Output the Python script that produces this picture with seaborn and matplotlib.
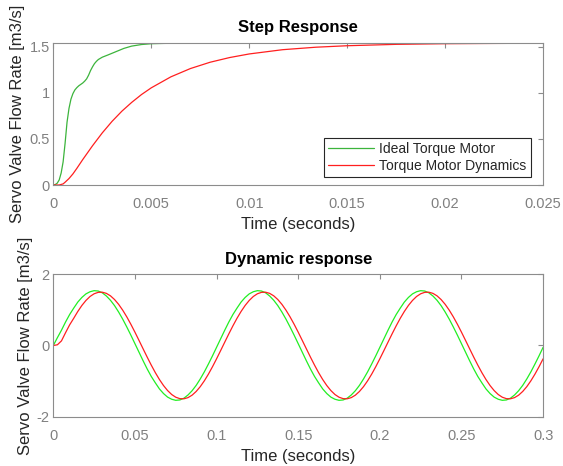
import numpy as np
import pandas as pd
import matplotlib
matplotlib.use("Agg")
import matplotlib.pyplot as plt
from matplotlib.ticker import FuncFormatter
import seaborn as sns

# ---------------- data ----------------
# Step response
t_step_ideal = [0, 0.0001, 0.0002, 0.0003, 0.0004, 0.0005, 0.0006, 0.0007, 0.0008,
                0.0009, 0.001, 0.0011, 0.0012, 0.0013, 0.0014, 0.0015, 0.0016, 0.0017,
                0.0018, 0.0019, 0.002, 0.0021, 0.0022, 0.0023, 0.0025, 0.0028, 0.0032,
                0.0036, 0.004, 0.0045, 0.005, 0.006, 0.008, 0.025]
q_step_ideal = [0, 0.005, 0.02, 0.055, 0.13, 0.25, 0.45, 0.68, 0.83,
                0.93, 0.99, 1.03, 1.055, 1.075, 1.09, 1.105, 1.125, 1.15,
                1.19, 1.24, 1.28, 1.315, 1.34, 1.36, 1.385, 1.41, 1.445,
                1.48, 1.505, 1.522, 1.531, 1.536, 1.538, 1.538]

t_step_dyn = [0, 0.0003, 0.0005, 0.0006, 0.0008, 0.001, 0.0012, 0.0015, 0.002,
              0.0025, 0.003, 0.0035, 0.004, 0.0045, 0.005, 0.006, 0.007,
              0.008, 0.009, 0.01, 0.0117, 0.0134, 0.015, 0.0175, 0.02, 0.0225, 0.025]
q_step_dyn = [0, 0.0, 0.012, 0.03, 0.07, 0.12, 0.18, 0.275, 0.425,
              0.565, 0.69, 0.80, 0.895, 0.98, 1.053, 1.172, 1.262,
              1.33, 1.381, 1.42, 1.466, 1.493, 1.509, 1.524, 1.531, 1.534, 1.536]

# Dynamic (sinusoidal) response, sampled every 2.5 ms
t_dyn = np.round(np.arange(0, 0.30001, 0.0025), 4)
q_dyn_ideal = [0,
    0.22, 0.43, 0.66, 0.87, 1.05, 1.22, 1.35, 1.45, 1.51, 1.54,
    1.53, 1.48, 1.39, 1.27, 1.12, 0.94, 0.74, 0.52, 0.29, 0.05,
    -0.19, -0.43, -0.66, -0.87, -1.05, -1.22, -1.35, -1.45, -1.51, -1.54,
    -1.53, -1.48, -1.39, -1.27, -1.12, -0.94, -0.74, -0.52, -0.29, -0.05,
    0.19, 0.43, 0.66, 0.87, 1.05, 1.22, 1.35, 1.45, 1.51, 1.54,
    1.53, 1.48, 1.39, 1.27, 1.12, 0.94, 0.74, 0.52, 0.29, 0.05,
    -0.19, -0.43, -0.66, -0.87, -1.05, -1.22, -1.35, -1.45, -1.51, -1.54,
    -1.53, -1.48, -1.39, -1.27, -1.12, -0.94, -0.74, -0.52, -0.29, -0.05,
    0.19, 0.43, 0.66, 0.87, 1.05, 1.22, 1.35, 1.45, 1.51, 1.54,
    1.53, 1.48, 1.39, 1.27, 1.12, 0.94, 0.74, 0.52, 0.29, 0.05,
    -0.19, -0.43, -0.66, -0.87, -1.05, -1.22, -1.35, -1.45, -1.51, -1.54,
    -1.53, -1.48, -1.39, -1.27, -1.12, -0.94, -0.74, -0.52, -0.29, -0.05]
q_dyn_motor = [0, 0.02, 0.13, 0.36, 0.58,
    0.764, 0.956, 1.125, 1.266, 1.377, 1.453, 1.493, 1.497, 1.464, 1.395,
    1.291, 1.156, 0.992, 0.804, 0.596, 0.373, 0.141,
    -0.094, -0.327, -0.552, -0.764, -0.956, -1.125, -1.266, -1.377, -1.453, -1.493,
    -1.497, -1.464, -1.395, -1.291, -1.156, -0.992, -0.804, -0.596, -0.373, -0.141,
    0.094, 0.327, 0.552, 0.764, 0.956, 1.125, 1.266, 1.377, 1.453, 1.493,
    1.497, 1.464, 1.395, 1.291, 1.156, 0.992, 0.804, 0.596, 0.373, 0.141,
    -0.094, -0.327, -0.552, -0.764, -0.956, -1.125, -1.266, -1.377, -1.453, -1.493,
    -1.497, -1.464, -1.395, -1.291, -1.156, -0.992, -0.804, -0.596, -0.373, -0.141,
    0.094, 0.327, 0.552, 0.764, 0.956, 1.125, 1.266, 1.377, 1.453, 1.493,
    1.497, 1.464, 1.395, 1.291, 1.156, 0.992, 0.804, 0.596, 0.373, 0.141,
    -0.094, -0.327, -0.552, -0.764, -0.956, -1.125, -1.266, -1.377, -1.453, -1.493,
    -1.497, -1.464, -1.395, -1.291, -1.156, -0.992, -0.804, -0.596, -0.373]

step_xticks = [0, 0.005, 0.01, 0.015, 0.02, 0.025]
step_yticks = [0, 0.5, 1, 1.5]
dyn_xticks = [0, 0.05, 0.1, 0.15, 0.2, 0.25, 0.3]
dyn_yticks = [-2, 0, 2]

label_ideal = "Ideal Torque Motor"
label_motor = "Torque Motor Dynamics"
xlabel = "Time (seconds)"
ylabel = "Servo Valve Flow Rate [m3/s]"

# ---------------- style ----------------
sns.set_style("white")
plt.rcParams["font.family"] = ["Liberation Sans", "DejaVu Sans"]

SPINE = "#8c8c8c"
TICKTXT = "#808080"
LABELTXT = "#262626"
GREEN_TOP = "#3cb43c"
GREEN_BOT = "#22ee22"
RED = "#ff1f1f"

fig = plt.figure(figsize=(5.63, 4.66), dpi=100)
ax1 = fig.add_axes([0.0947, 0.603, 0.870, 0.305])
ax2 = fig.add_axes([0.0947, 0.1058, 0.870, 0.3056])

fmt = FuncFormatter(lambda v, p: f"{v:g}")

sns.lineplot(x=t_step_ideal, y=q_step_ideal, ax=ax1, color=GREEN_TOP, linewidth=0.9,
             label=label_ideal, sort=False, estimator=None)
sns.lineplot(x=t_step_dyn, y=q_step_dyn, ax=ax1, color=RED, linewidth=0.9,
             label=label_motor, sort=False, estimator=None)
sns.lineplot(x=t_dyn, y=q_dyn_ideal, ax=ax2, color=GREEN_BOT, linewidth=0.9,
             sort=False, estimator=None)
sns.lineplot(x=t_dyn, y=q_dyn_motor, ax=ax2, color=RED, linewidth=0.9,
             sort=False, estimator=None)

for ax, xt, yt, xl, yl, title in [
    (ax1, step_xticks, step_yticks, (0, 0.025), (0, 1.54), "Step Response"),
    (ax2, dyn_xticks, dyn_yticks, (0, 0.3), (-2, 2), "Dynamic response"),
]:
    ax.set_xlim(*xl)
    ax.set_ylim(*yl)
    ax.set_xticks(xt)
    ax.set_yticks(yt)
    ax.xaxis.set_major_formatter(fmt)
    ax.yaxis.set_major_formatter(fmt)
    for s in ax.spines.values():
        s.set_visible(True)
        s.set_color(SPINE)
        s.set_linewidth(0.8)
    ax.tick_params(axis="both", which="major", direction="in", length=3.5, width=0.8,
                   color=SPINE, labelcolor=TICKTXT, labelsize=10.5,
                   top=True, right=True)
    ax.tick_params(axis="x", pad=8.5)
    ax.tick_params(axis="y", pad=2.5)
    ax.set_xlabel(xlabel, fontsize=12, color=LABELTXT, labelpad=4.5)
    ax.set_ylabel(ylabel, fontsize=12, color=LABELTXT, labelpad=3)
    ax.set_title(title, fontsize=12, fontweight="bold", color="black", pad=7.5)
    ax.grid(False)

leg = ax1.legend(loc="lower right", bbox_to_anchor=(0.975, 0.054), fontsize=10,
                 frameon=True, fancybox=False, framealpha=1, handlelength=3.3,
                 handletextpad=0.4, labelspacing=0.25, borderpad=0.3, borderaxespad=0)
leg.get_frame().set_edgecolor("#262626")
leg.get_frame().set_linewidth(0.8)
for txt in leg.get_texts():
    txt.set_color(LABELTXT)
if ax2.get_legend() is not None:
    ax2.get_legend().remove()

fig.savefig("out.png", dpi=100)
